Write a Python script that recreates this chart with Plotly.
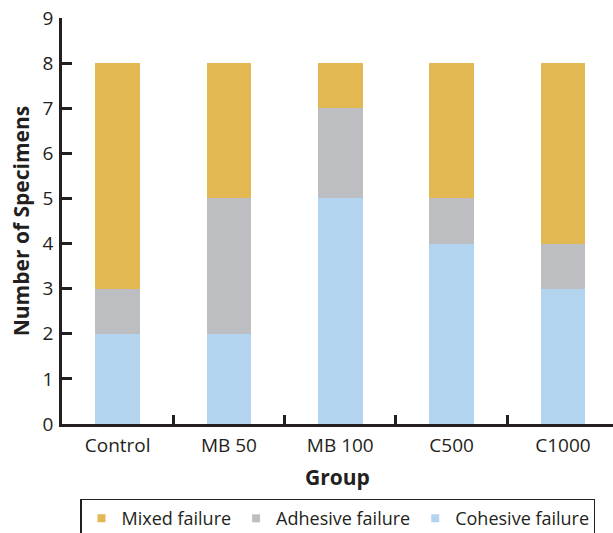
import plotly.graph_objects as go

groups = ["Control", "MB 50", "MB 100", "C500", "C1000"]
cohesive = [2, 2, 5, 4, 3]
adhesive = [1, 3, 2, 1, 1]
mixed = [5, 3, 1, 3, 4]

series_names = ["Cohesive failure", "Adhesive failure", "Mixed failure"]
series_values = [cohesive, adhesive, mixed]
series_colors = ["#B2D4EF", "#BDBEC2", "#E1B851"]

ink = "#231F20"
font_family = "Open Sans, Noto Sans, sans-serif"

fig = go.Figure()
for name, vals, col in zip(series_names, series_values, series_colors):
    fig.add_trace(go.Bar(x=groups, y=vals, name=name, marker_color=col,
                         marker_line_width=0, width=0.40, showlegend=False))

# legend entries (small square swatches), ordered as in the reference
for name, col in zip(series_names[::-1], series_colors[::-1]):
    fig.add_trace(go.Scatter(x=[None], y=[None], mode="markers", name=name,
                             marker=dict(symbol="square", size=8, color=col),
                             showlegend=True))

fig.update_layout(
    width=613, height=533,
    margin=dict(l=62, r=0, t=18, b=109),
    barmode="stack",
    plot_bgcolor="white", paper_bgcolor="white",
    font=dict(family=font_family, size=19, color=ink),
    legend=dict(orientation="h", xref="container", x=0.131, xanchor="left",
                yref="container", y=0.064, yanchor="top",
                bordercolor=ink, borderwidth=1.2, font=dict(size=18),
                itemsizing="trace", traceorder="normal"),
    xaxis=dict(type="category", range=[-0.5, 4.45], showline=True, linecolor=ink,
               linewidth=2.5, ticks="inside", tickson="boundaries", ticklen=9,
               tickwidth=2.5, tickcolor=ink, showgrid=False, automargin=False,
               tickfont=dict(size=19), ticklabelstandoff=2,
               title=dict(text="<b>Group</b>", font=dict(size=21), standoff=14)),
    yaxis=dict(range=[0, 9], dtick=1, showline=True, linecolor=ink, linewidth=2.5,
               ticks="inside", ticklen=10, tickwidth=2.5, tickcolor=ink,
               showgrid=False, zeroline=False, automargin=False,
               tickfont=dict(size=19), ticklabelstandoff=2,
               title=dict(text="<b>Number of Specimens</b>", font=dict(size=21), standoff=8)),
)

fig.write_html("out.html", config={"displayModeBar": False},
               post_script="document.body.style.margin='0px';document.body.style.overflow='hidden';")
